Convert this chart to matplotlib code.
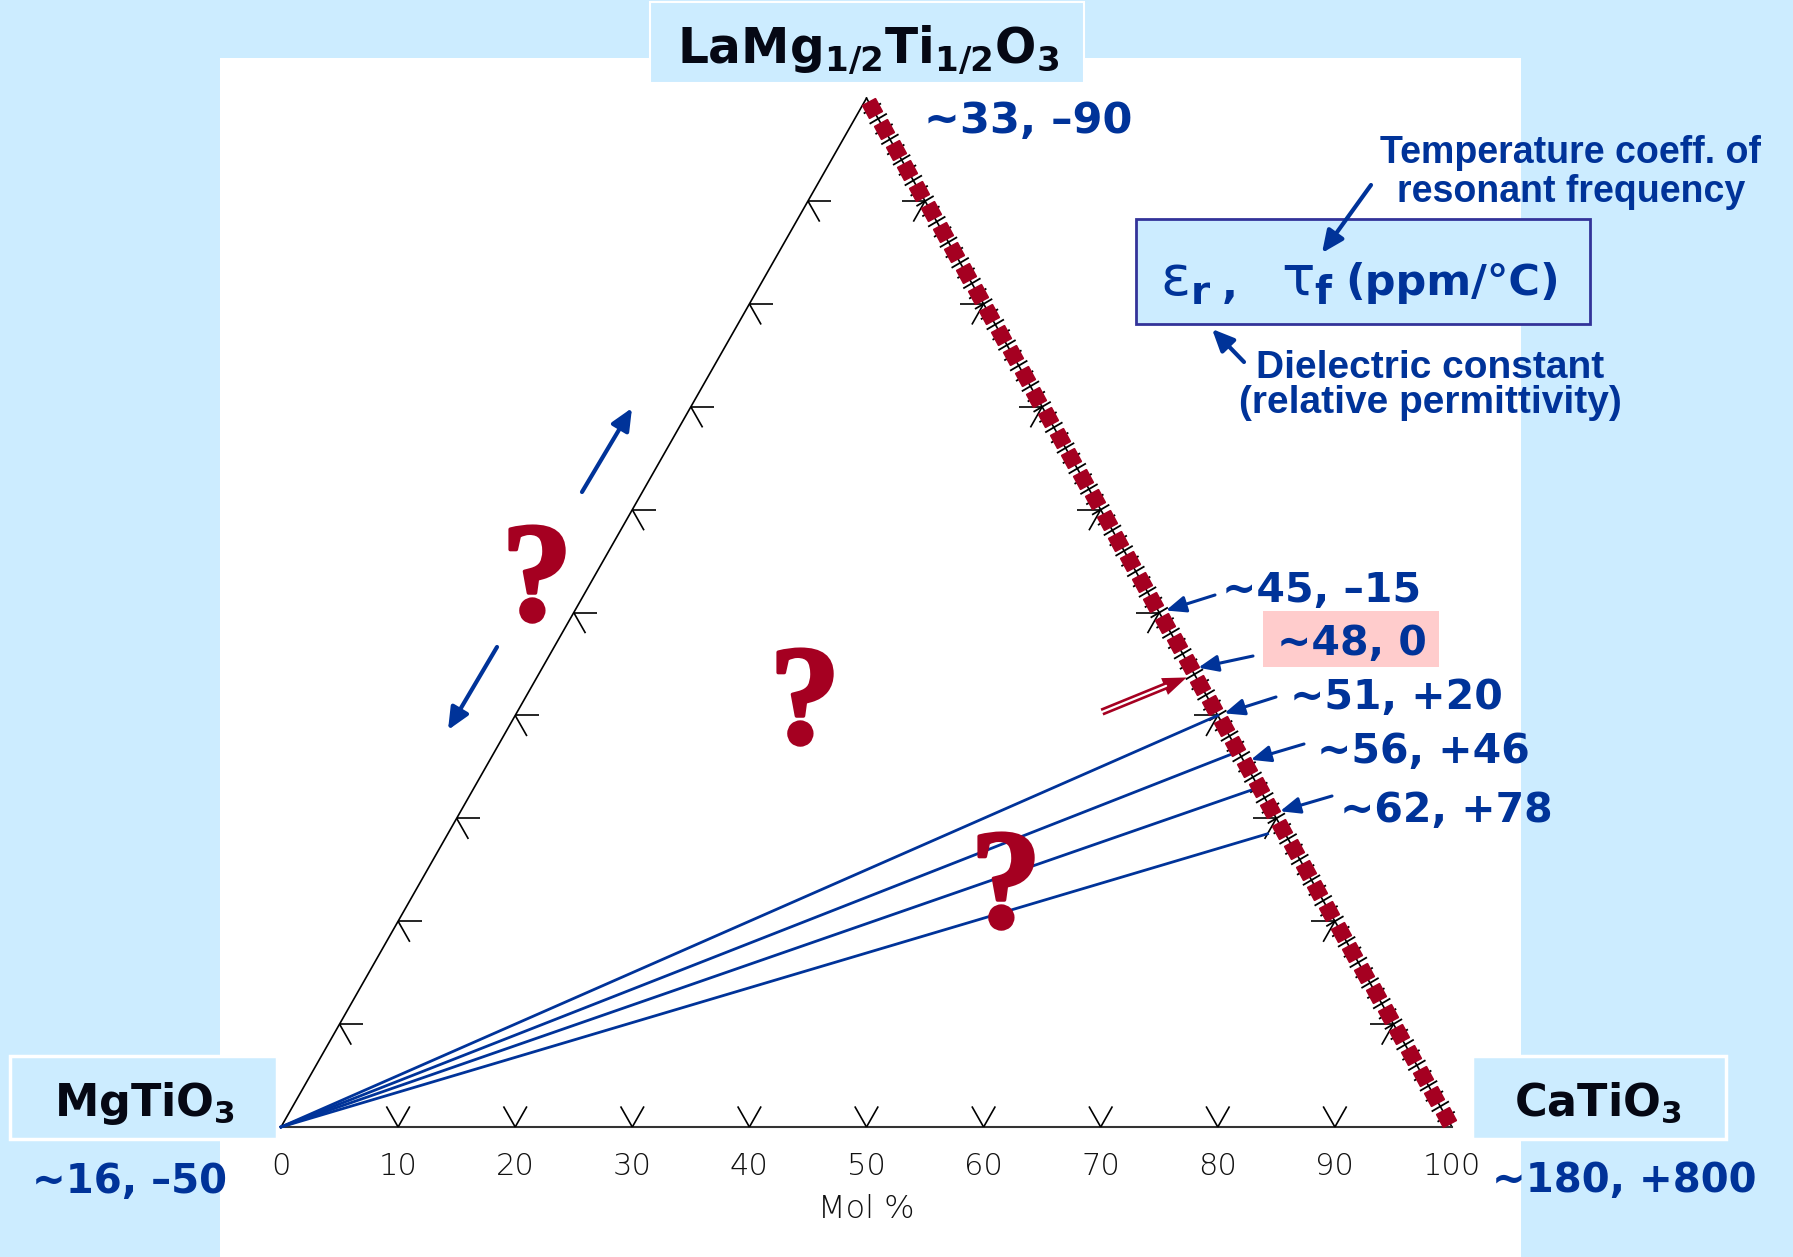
import numpy as np
import matplotlib
matplotlib.use("Agg")
import matplotlib.pyplot as plt
import matplotlib.patheffects as pe
from matplotlib.patches import Rectangle
from matplotlib.markers import MarkerStyle
from matplotlib.transforms import Affine2D
from matplotlib.collections import LineCollection

W, H = 1793, 1257
SKY = "#CCECFF"
NAVY = "#003399"
RED = "#A50021"
INK = "#050814"

# ---- data ---------------------------------------------------------------
# end members: bottom-left, bottom-right, apex
corner_names = [r"MgTiO$_\mathbf{3}$", r"CaTiO$_\mathbf{3}$",
                r"LaMg$_\mathbf{1/2}$Ti$_\mathbf{1/2}$O$_\mathbf{3}$"]
corner_er = [16, 180, 33]
corner_tf = [-50, 800, -90]

bottom_ticks = [0, 10, 20, 30, 40, 50, 60, 70, 80, 90, 100]
edge_marks = [10, 20, 30, 40, 50, 60, 70, 80, 90]

# samples along the LaMg1/2Ti1/2O3 - CaTiO3 join (mol% CaTiO3)
join_samples = list(range(1, 100, 2))

# tie lines from MgTiO3, end compositions (mol% CaTiO3, mol% LMT)
tie_ct = [60.0, 63.5, 67.0, 70.0]
tie_lmt = [40.0, 36.5, 33.0, 28.5]

# properties at points on the join
prop_ct = [50.0, 55.5, 60.0, 64.5, 69.5]
prop_er = [45, 48, 51, 56, 62]
prop_tf = [-15, 0, 20, 46, 78]
zero_tf_ct = 56.0

# ---- helpers ------------------------------------------------------------
X0, Y0, SX, SY = 281, 1127, 11.71, 11.88
R3 = np.sqrt(3) / 2


def tern(ct, lmt):
    ct = np.asarray(ct, float)
    lmt = np.asarray(lmt, float)
    return ct + lmt / 2, lmt * R3


def fpx(x, y):
    return (x / W, 1 - y / H)


def dy(py):
    return (Y0 - py) / SY


def fmt_tf(v):
    if v == 0:
        return "0"
    return f"+{v}" if v > 0 else f"\u2013{abs(v)}"


def label(er, tf):
    return f"~{er}, {fmt_tf(tf)}"


fig = plt.figure(figsize=(W / 100, H / 100), dpi=100)
fig.patch.set_facecolor(SKY)
ax = fig.add_axes([0, 0, 1, 1])
ax.set_xlim(-X0 / SX, (W - X0) / SX)
ax.set_ylim(-(H - Y0) / SY, Y0 / SY)
ax.axis("off")


def box(x0, y0, x1, y1, **kw):
    r = Rectangle(fpx(x0, y1), (x1 - x0) / W, (y1 - y0) / H,
                  transform=fig.transFigure, **kw)
    ax.add_patch(r)
    return r


def ftext(x, y, s, **kw):
    return ax.text(*fpx(x, y), s, transform=fig.transFigure, **kw)


# background panels
box(220, 58, 1521, H + 5, fc="white", ec="none", zorder=0)
box(650, 2, 1084, 83, fc=SKY, ec="white", lw=1.5, zorder=1)
box(10, 1056, 277, 1139, fc=SKY, ec="white", lw=2.5, zorder=1)
box(1472, 1056, 1726, 1139, fc=SKY, ec="white", lw=2.5, zorder=1)
box(1136, 219, 1590, 324, fc=SKY, ec="#333399", lw=2, zorder=1)
box(1263, 611, 1439, 667, fc="#FFCCCC", ec="none", zorder=1)

# triangle
cx, cy = tern([0, 100, 0, 0], [0, 0, 100, 0])
ax.plot(cx[:3], cy[:3], color="black", lw=1.2, zorder=3)
ax.plot([cx[2], cx[0]], [cy[2], cy[0]], color="black", lw=1.2, zorder=3)
ax.plot([0, 100], [0, 0], color="#333333", lw=1.5, zorder=3)

TL = 2.0
segs = []
for v in edge_marks:
    # bottom edge: V
    bx, by = tern(v, 0)
    segs.append([(bx - TL / 2, TL * R3), (bx, by)])
    segs.append([(bx, by), (bx + TL / 2, TL * R3)])
    # left edge
    lx, ly = tern(0, v)
    segs.append([(lx, ly), (lx + TL, ly)])
    segs.append([(lx, ly), (lx + TL / 2, ly - TL * R3)])
    # right edge
    rx, ry = tern(v, 100 - v)
    segs.append([(rx, ry), (rx - TL, ry)])
    segs.append([(rx, ry), (rx - TL / 2, ry - TL * R3)])
ax.add_collection(LineCollection(segs, colors="black", linewidths=1.2, zorder=3))

# fine ticks along the join
fine = []
h = 0.85
for c in range(1, 100):
    px_, py_ = tern(c, 100 - c)
    fine.append([(px_ - h * R3, py_ - h * 0.5), (px_ + h * R3, py_ + h * 0.5)])
ax.add_collection(LineCollection(fine, colors="black", linewidths=1.3, zorder=4))

sx, sy = tern(join_samples, [100 - c for c in join_samples])
sq = MarkerStyle("s", transform=Affine2D().rotate_deg(30))
ax.plot(sx, sy, ls="none", marker=sq, ms=10.5, color=RED, mec=RED, zorder=5)

# tie lines from MgTiO3
for ct, lm in zip(tie_ct, tie_lmt):
    ex, ey = tern(ct, lm)
    ax.plot([0, ex], [0, ey], color=NAVY, lw=2.0, zorder=4)

# bottom axis labels
for t in bottom_ticks:
    ax.text(t, dy(1175), str(t), ha="center", va="baseline", fontsize=22,
            fontweight="light", color="#111111", zorder=6)
ax.text(50, dy(1218), "Mol %", ha="center", va="baseline", fontsize=23,
        fontweight="light", color="#111111", zorder=6)

# corner labels
ftext(868, 63, corner_names[2], ha="center", va="baseline",
      fontsize=35, fontweight="bold", color=INK, zorder=6)
ftext(145, 1116, corner_names[0], ha="center", va="baseline",
      fontsize=32, fontweight="bold", color=INK, zorder=6)
ftext(1598, 1116, corner_names[1], ha="center", va="baseline",
      fontsize=32, fontweight="bold", color=INK, zorder=6)

ftext(924, 133, label(corner_er[2], corner_tf[2]), ha="left", va="baseline",
      fontsize=31, fontweight="bold", color=NAVY, zorder=6)
ftext(129, 1193, label(corner_er[0], corner_tf[0]), ha="center", va="baseline",
      fontsize=29, fontweight="bold", color=NAVY, zorder=6)
ftext(1624, 1192, label(corner_er[1], corner_tf[1]), ha="center", va="baseline",
      fontsize=29, fontweight="bold", color=NAVY, zorder=6)

# property labels with arrows to the join
tails = [(1215, 595), (1253, 656), (1276, 697), (1304, 744), (1332, 796)]
spots = [(1222, 602), (1277, 655), (1290, 709), (1317, 763), (1340, 822)]
for ct, er, tf, tl, sp in zip(prop_ct, prop_er, prop_tf, tails, spots):
    ax.annotate("", xy=tern(ct, 100 - ct), xycoords="data",
                xytext=fpx(*tl), textcoords="figure fraction",
                arrowprops=dict(arrowstyle="-|>,head_length=0.6,head_width=0.25",
                                mutation_scale=20, lw=2.2, color=NAVY,
                                shrinkA=0, shrinkB=5), zorder=7)
    ftext(*sp, label(er, tf), ha="left", va="baseline", fontsize=29.5,
          fontweight="bold", color=NAVY, zorder=6)

# red double arrow to tau_f = 0
zx, zy = tern(zero_tf_ct, 100 - zero_tf_ct)
ax.annotate("", xy=(zx, zy), xycoords="data", xytext=fpx(1102, 712),
            textcoords="figure fraction",
            arrowprops=dict(arrowstyle="simple,head_length=0.86,head_width=0.65,tail_width=0.27",
                            mutation_scale=20, fc=RED, ec="none", shrinkA=0, shrinkB=6),
            zorder=7)
ax.annotate("", xy=(zx, zy), xycoords="data", xytext=fpx(1102, 712),
            textcoords="figure fraction",
            arrowprops=dict(arrowstyle="-", lw=1.6, color="white", shrinkA=0, shrinkB=22),
            zorder=8)

# legend box
ftext(1160, 295, "\u03b5$_\\mathbf{r}$", ha="left", va="baseline", fontsize=40,
      color=NAVY, zorder=6)
ftext(1222, 298, ",", ha="left", va="baseline", fontsize=30,
      fontweight="bold", color=NAVY, zorder=6)
ftext(1281, 295, "\u03c4$_\\mathbf{f}$", ha="left", va="baseline", fontsize=40,
      color=NAVY, zorder=6)
ftext(1345, 295, "(ppm/\u00b0C)", ha="left", va="baseline", fontsize=31,
      fontweight="bold", color=NAVY, zorder=6)

note_font = dict(family=["Liberation Sans", "DejaVu Sans"], fontweight="bold",
                 color=NAVY, ha="center", va="baseline", zorder=6)
ftext(1570, 163, "Temperature coeff. of", fontsize=27, **note_font)
ftext(1571, 202, "resonant frequency", fontsize=27, **note_font)
ftext(1430, 378, "Dielectric constant", fontsize=28, **note_font)
ftext(1430, 413, "(relative permittivity)", fontsize=28, **note_font)

arrow_kw = dict(arrowstyle="-|>,head_length=0.6,head_width=0.27", mutation_scale=22,
                lw=3, color=NAVY, shrinkA=0, shrinkB=0)
for tail, tip in [((1371, 185), (1322, 253)), ((1244, 362), (1212, 329)),
                  ((582, 492), (632, 408)), ((497, 647), (448, 730))]:
    ax.annotate("", xy=fpx(*tip), xycoords="figure fraction", xytext=fpx(*tail),
                textcoords="figure fraction", arrowprops=arrow_kw, zorder=7)

# question marks
q_font = dict(family=["Liberation Serif", "DejaVu Serif"], fontweight="bold", fontsize=102,
              color=RED, ha="center", va="baseline", zorder=6,
              path_effects=[pe.withStroke(linewidth=2.5, foreground=RED)])
for qx, qy in [(537, 620), (805, 743), (1006, 927)]:
    ftext(qx, qy, "?", **q_font)

fig.savefig("out.png", dpi=100, facecolor=SKY)
